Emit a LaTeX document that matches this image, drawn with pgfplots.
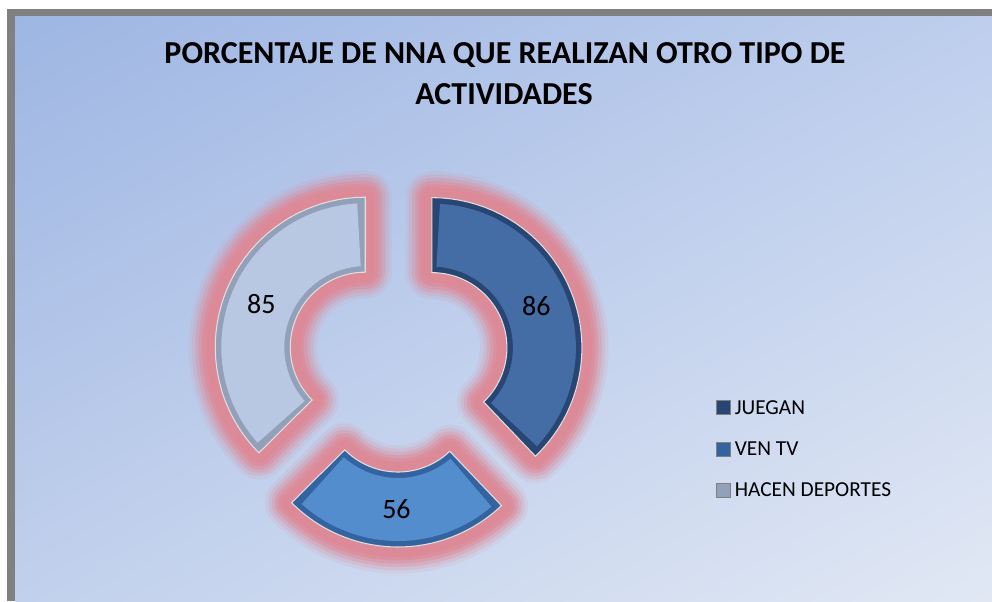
\documentclass[border=0pt]{standalone}
\usepackage{pgfplots}
\pgfplotsset{compat=1.18}
\usepackage{pgfplotstable}
\usetikzlibrary{shadings}
\usepackage{fontspec}
\setmainfont{Carlito}

\definecolor{juegan}{RGB}{67,109,164}
\definecolor{jueganedge}{RGB}{40,70,116}
\definecolor{ventv}{RGB}{84,141,206}
\definecolor{ventvedge}{RGB}{52,100,160}
\definecolor{hacen}{RGB}{184,199,226}
\definecolor{hacenedge}{RGB}{146,160,186}
\definecolor{glow}{RGB}{221,138,152}
\definecolor{marco}{RGB}{128,128,128}
\definecolor{bgA}{RGB}{158,182,227}
\definecolor{bgB}{RGB}{190,206,237}
\definecolor{bgC}{RGB}{193,208,236}
\definecolor{bgD}{RGB}{225,232,244}

% datos
\pgfplotstableread[col sep=comma]{
label,value
JUEGAN,86
VEN TV,56
HACEN DEPORTES,85
}\actividades

\pgfplotstablegetelem{0}{value}\of\actividades \pgfmathsetmacro\vJ{\pgfplotsretval}
\pgfplotstablegetelem{1}{value}\of\actividades \pgfmathsetmacro\vV{\pgfplotsretval}
\pgfplotstablegetelem{2}{value}\of\actividades \pgfmathsetmacro\vH{\pgfplotsretval}
\pgfmathsetmacro\tot{\vJ+\vV+\vH}

% angulos: desde las 12 en sentido horario
\pgfmathsetmacro\aJs{90}
\pgfmathsetmacro\aJe{90-360*(\vJ/\tot)}
\pgfmathsetmacro\aVe{\aJe-360*(\vV/\tot)}
\pgfmathsetmacro\aHe{\aVe-360*(\vH/\tot)}
\pgfmathsetmacro\mJ{(\aJs+\aJe)/2}
\pgfmathsetmacro\mV{(\aJe+\aVe)/2}
\pgfmathsetmacro\mH{(\aVe+\aHe)/2}

% centro, explosion, radios (px)
\def\cx{398.5}\def\cy{240}\def\expl{36}
\def\ro{150}\def\ri{75}\def\rm{112.5}
\pgfmathsetmacro\oxJ{\cx+\expl*cos(\mJ)}\pgfmathsetmacro\oyJ{\cy+\expl*sin(\mJ)}
\pgfmathsetmacro\oxV{\cx+\expl*cos(\mV)}\pgfmathsetmacro\oyV{\cy+\expl*sin(\mV)}
\pgfmathsetmacro\oxH{\cx+\expl*cos(\mH)}\pgfmathsetmacro\oyH{\cy+\expl*sin(\mH)}

% sector: #1 opciones, #2 ox, #3 oy, #4 angulo inicio, #5 angulo fin, #6 r ext, #7 r int
\newcommand{\sector}[7]{%
  \addplot[#1, forget plot, domain=0:3, samples=121, variable=\t]
  ({(#2)+ifthenelse(\t<=1,(#6),ifthenelse(\t<=2,(#6)-((#6)-(#7))*(\t-1),(#7)))
      *cos(ifthenelse(\t<=2,(#4)+((#5)-(#4))*min(\t,1),(#5)+((#4)-(#5))*(\t-2)))},
   {(#3)+ifthenelse(\t<=1,(#6),ifthenelse(\t<=2,(#6)-((#6)-(#7))*(\t-1),(#7)))
      *sin(ifthenelse(\t<=2,(#4)+((#5)-(#4))*min(\t,1),(#5)+((#4)-(#5))*(\t-2)))}) -- cycle;
}
% halo rosado (difuminado por capas)
\newcommand{\halo}[4]{%
  \sector{draw=glow, line width=40pt, line join=round, draw opacity=0.12}{#1}{#2}{#3}{#4}{\ro}{\ri}
  \sector{draw=glow, line width=35pt, line join=round, draw opacity=0.2}{#1}{#2}{#3}{#4}{\ro}{\ri}
  \sector{draw=glow, line width=30pt, line join=round, draw opacity=0.3}{#1}{#2}{#3}{#4}{\ro}{\ri}
  \sector{draw=glow, line width=25pt, line join=round, draw opacity=0.45}{#1}{#2}{#3}{#4}{\ro}{\ri}
  \sector{draw=glow, line width=20pt, line join=round, draw opacity=0.65}{#1}{#2}{#3}{#4}{\ro}{\ri}
  \sector{draw=glow, line width=15pt, line join=round, draw opacity=0.9}{#1}{#2}{#3}{#4}{\ro}{\ri}
}
% segmento biselado
\newcommand{\segmento}[6]{%
  \sector{fill=#6, draw=none}{#1}{#2}{#3}{#4}{\ro}{\ri}
  \sector{fill=#5, draw=none}{#1}{#2}{(#3)-3.2}{(#4)+3.2}{\ro-6}{\ri+6}
  \sector{draw=white!75!gray, line width=0.8pt, fill=none}{#1}{#2}{#3}{#4}{\ro}{\ri}
}

\begin{document}
\begin{tikzpicture}
\fill[white] (0,0) rectangle (744pt,450.75pt);
\fill[marco] (5.25pt,0) rectangle (744pt,444pt);
\shade[upper left=bgA, upper right=bgB, lower left=bgC, lower right=bgD]
  (11.25pt,0) rectangle (744pt,438pt);
\begin{axis}[
    x=0.75pt, y=0.75pt,
    xmin=0, xmax=992, ymin=0, ymax=601,
    hide axis, clip=false,
    legend style={at={(axis cs:716,201)}, anchor=north west, draw=none, fill=none,
      font=\fontsize{16}{19}\selectfont, row sep=20.1pt, inner sep=0pt,
      /tikz/every odd column/.style={column sep=3pt},
      nodes={inner sep=0pt, text height=10pt, text depth=0pt}},
    legend cell align=left,
    legend image code/.code={\draw[#1] (0pt,-5.25pt) rectangle (10.5pt,5.25pt);},
  ]
  \halo{\oxJ}{\oyJ}{\aJs}{\aJe}
  \halo{\oxV}{\oyV}{\aJe}{\aVe}
  \halo{\oxH}{\oyH}{\aVe}{\aHe}

  \segmento{\oxJ}{\oyJ}{\aJs}{\aJe}{juegan}{jueganedge}
  \segmento{\oxV}{\oyV}{\aJe}{\aVe}{ventv}{ventvedge}
  \segmento{\oxH}{\oyH}{\aVe}{\aHe}{hacen}{hacenedge}

  \pgfmathsetmacro\lxJ{\oxJ+\rm*cos(\mJ)}\pgfmathsetmacro\lyJ{\oyJ+\rm*sin(\mJ)}
  \pgfmathsetmacro\lxV{\oxV+\rm*cos(\mV)}\pgfmathsetmacro\lyV{\oyV+\rm*sin(\mV)}
  \pgfmathsetmacro\lxH{\oxH+\rm*cos(\mH)}\pgfmathsetmacro\lyH{\oyH+\rm*sin(\mH)}
  \node[font=\fontsize{21}{25}\selectfont] at (axis cs:\lxJ,\lyJ) {86};
  \node[font=\fontsize{21}{25}\selectfont] at (axis cs:\lxV,\lyV) {56};
  \node[font=\fontsize{21}{25}\selectfont] at (axis cs:\lxH,\lyH) {85};

  \node[anchor=base, font=\fontsize{24}{28}\selectfont\bfseries]
    at (axis cs:505,537) {PORCENTAJE DE NNA QUE REALIZAN OTRO TIPO DE};
  \node[anchor=base, font=\fontsize{24}{28}\selectfont\bfseries]
    at (axis cs:504,496) {ACTIVIDADES};

  \addlegendimage{fill=jueganedge, draw=gray}
  \addlegendentry{JUEGAN}
  \addlegendimage{fill=ventvedge, draw=gray}
  \addlegendentry{VEN TV}
  \addlegendimage{fill=hacenedge, draw=gray}
  \addlegendentry{HACEN DEPORTES}
\end{axis}
\pgfresetboundingbox
\useasboundingbox (0,0) rectangle (744pt,450.75pt);
\end{tikzpicture}
\end{document}
